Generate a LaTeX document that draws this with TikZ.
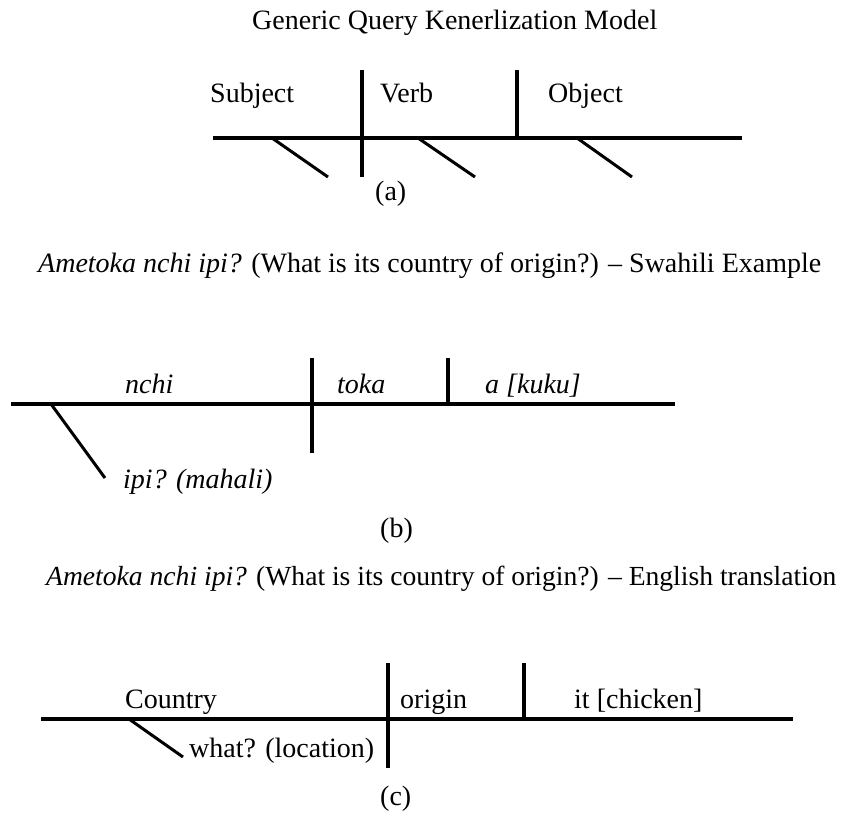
\documentclass[tikz,border=0pt]{standalone}
\usepackage{fontspec}
\setmainfont{Liberation Serif}
\begin{document}
\begin{tikzpicture}[x=1pt,y=-1pt,
  txt/.style={anchor=base west,inner sep=0pt,font=\fontsize{28}{34}\selectfont},
  itxt/.style={txt,font=\fontsize{28}{34}\selectfont\itshape},
  baseline/.style={line width=3.5pt},
  divider/.style={line width=3.5pt},
  modifier/.style={line width=3pt}]
\useasboundingbox (0,0) rectangle (845,812);

% ---------- (a) generic model ----------
\node[txt] (title) at (252,29) {Generic Query Kenerlization Model};
\coordinate (a-l) at (213,138);
\coordinate (a-r) at (742,138);
\coordinate (a-v1t) at (362,70);
\coordinate (a-v1b) at (362,177);
\coordinate (a-v2t) at (517,70);
\coordinate (a-v2b) at (517,138);
\coordinate (a-d1s) at (272,138); \coordinate (a-d1e) at (328,177);
\coordinate (a-d2s) at (418,138); \coordinate (a-d2e) at (475,177);
\coordinate (a-d3s) at (577,138); \coordinate (a-d3e) at (632,177);
\draw[baseline] (a-l) -- (a-r);
\draw[divider] (a-v1t) -- (a-v1b);
\draw[divider] (a-v2t) -- (a-v2b);
\draw[modifier] (a-d1s) -- (a-d1e);
\draw[modifier] (a-d2s) -- (a-d2e);
\draw[modifier] (a-d3s) -- (a-d3e);
\node[txt] (subj) at (210,102) {Subject};
\node[txt] (verb) at (380,102) {Verb};
\node[txt] (obj) at (548,102) {Object};
\node[txt] (capa) at (375,200) {(a)};

% ---------- (b) Swahili example ----------
\node[txt] (swa) at (38,272) {\textit{Ametoka nchi ipi?} (What is its country of origin?) – Swahili Example};
\coordinate (b-l) at (11,404);
\coordinate (b-r) at (675,404);
\coordinate (b-v1t) at (312,358);
\coordinate (b-v1b) at (312,453);
\coordinate (b-v2t) at (448,358);
\coordinate (b-v2b) at (448,404);
\coordinate (b-ds) at (51,404); \coordinate (b-de) at (105,478);
\draw[baseline] (b-l) -- (b-r);
\draw[divider] (b-v1t) -- (b-v1b);
\draw[divider] (b-v2t) -- (b-v2b);
\draw[modifier] (b-ds) -- (b-de);
\node[itxt] (nchi) at (125,393) {nchi};
\node[itxt] (toka) at (337,393) {toka};
\node[itxt] (kuku) at (485,393) {a [kuku]};
\node[itxt] (ipi) at (123,488) {ipi? (mahali)};
\node[txt] (capb) at (380,537) {(b)};

% ---------- (c) English translation ----------
\node[txt,font=\fontsize{27.6}{34}\selectfont] (eng) at (46,585) {\textit{Ametoka nchi ipi?} (What is its country of origin?) – English translation};
\coordinate (c-l) at (41,719);
\coordinate (c-r) at (793,719);
\coordinate (c-v1t) at (388,663);
\coordinate (c-v1b) at (388,768);
\coordinate (c-v2t) at (524,663);
\coordinate (c-v2b) at (524,719);
\coordinate (c-ds) at (129,719); \coordinate (c-de) at (183,757);
\draw[baseline] (c-l) -- (c-r);
\draw[divider] (c-v1t) -- (c-v1b);
\draw[divider] (c-v2t) -- (c-v2b);
\draw[modifier] (c-ds) -- (c-de);
\node[txt] (country) at (125,708) {Country};
\node[txt] (origin) at (400,708) {origin};
\node[txt] (chicken) at (574,708) {it [chicken]};
\node[txt] (what) at (189,757) {what? (location)};
\node[txt] (capc) at (380,805) {(c)};
\end{tikzpicture}
\end{document}
